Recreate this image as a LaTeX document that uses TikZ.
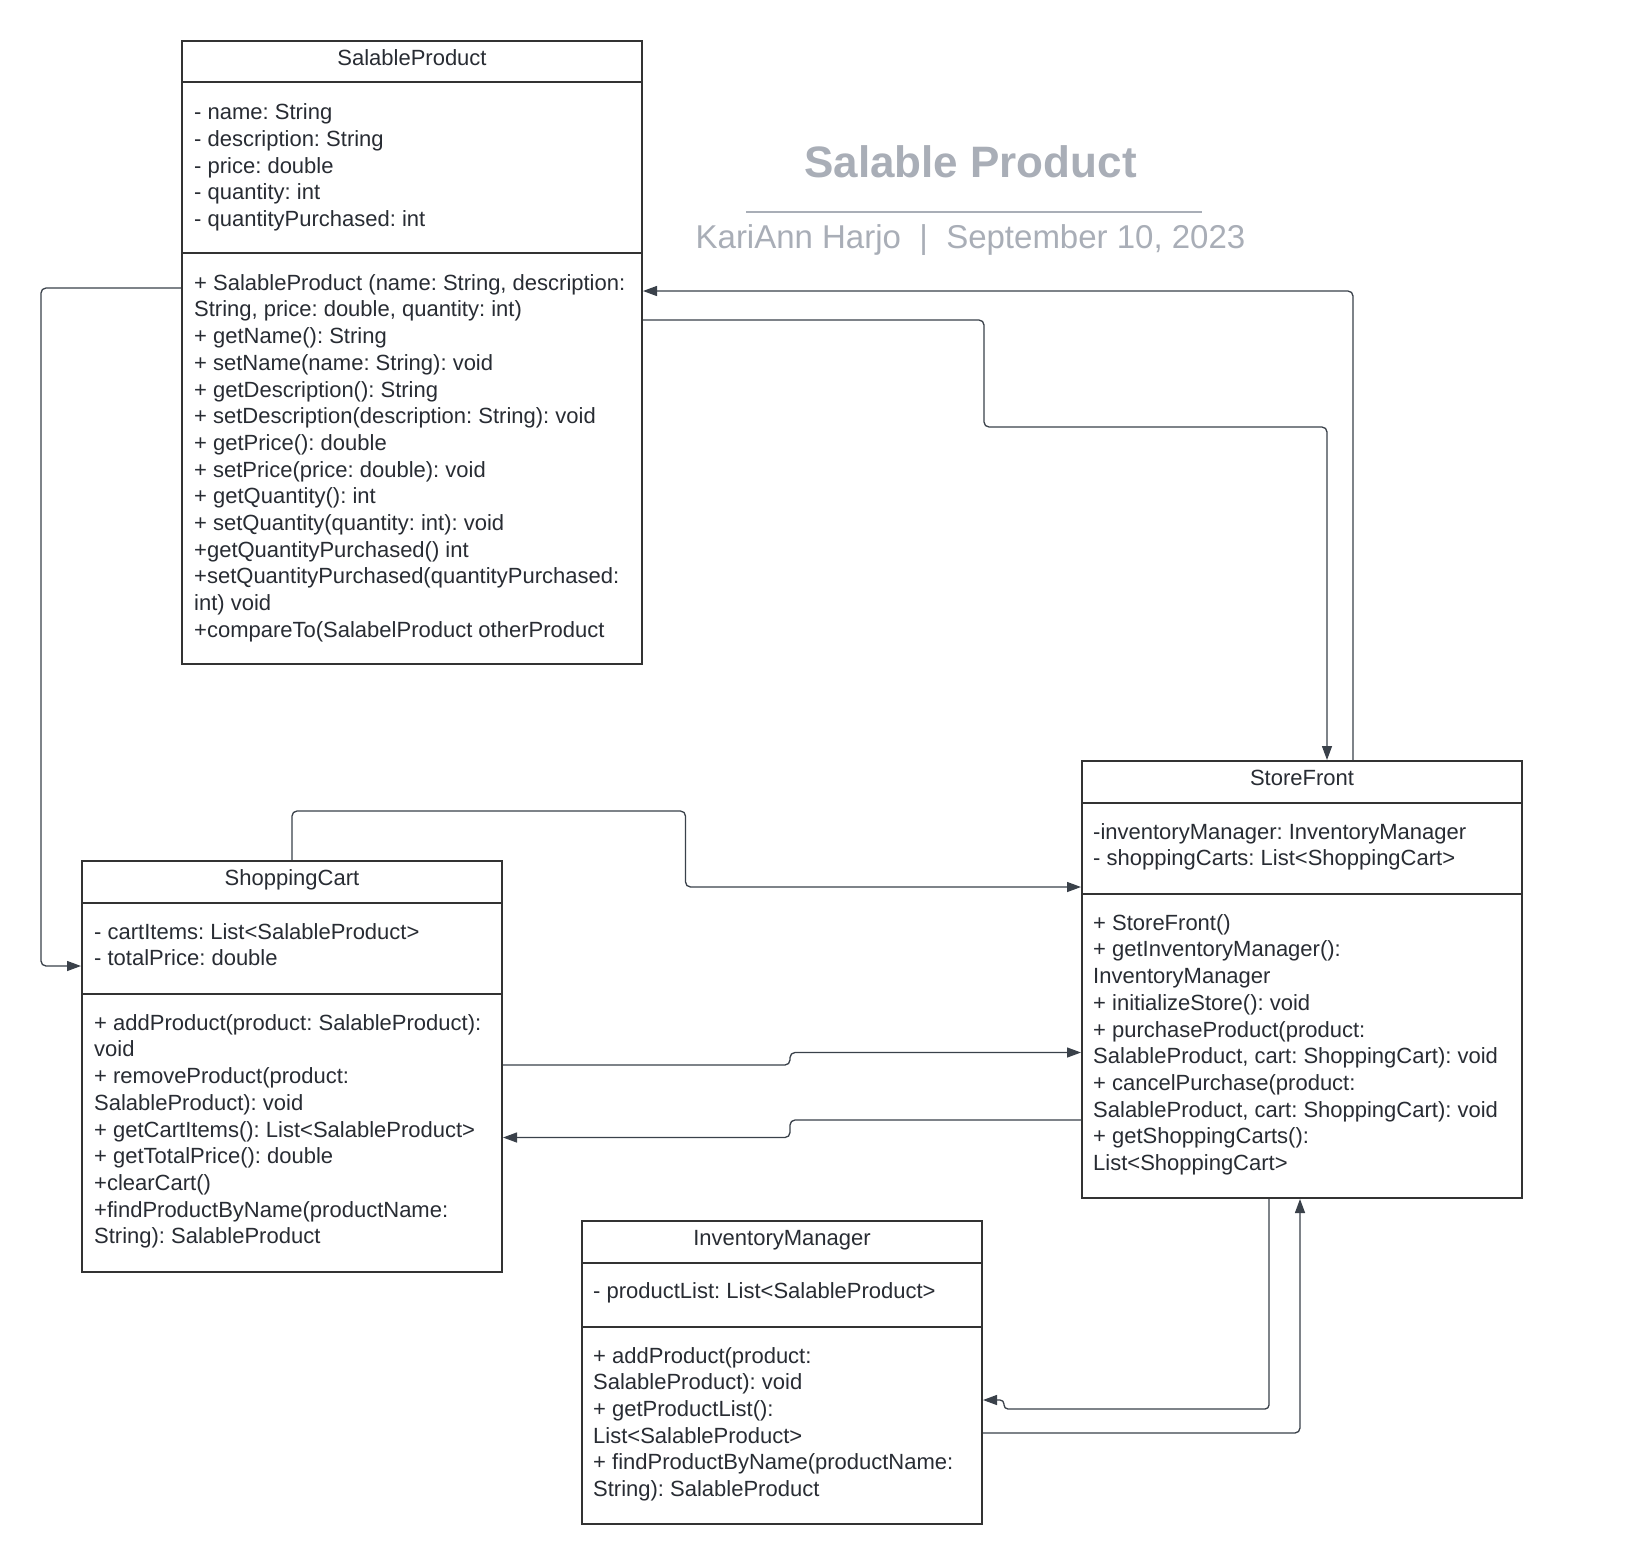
\documentclass[tikz,border=0pt]{standalone}
\usepackage{fontspec}
\setmainfont{Liberation Sans}
\usetikzlibrary{arrows.meta,calc}
\definecolor{boxline}{HTML}{333333}
\definecolor{txtcol}{HTML}{282C33}
\definecolor{conncol}{HTML}{3A414A}
\definecolor{ttlcol}{HTML}{A9AEB7}
\frenchspacing
\begin{document}
\begin{tikzpicture}[x=1pt,y=-1pt,
  umlbox/.style={draw=boxline,line width=2pt,anchor=north west,inner sep=0pt,rectangle},
  divider/.style={draw=boxline,line width=2pt},
  boxtitle/.style={anchor=base,inner sep=0pt,text=txtcol,font=\fontsize{22}{26.7}\selectfont},
  body/.style={anchor=north west,inner sep=0pt,align=left,text=txtcol,font=\fontsize{22}{26.7}\selectfont\frenchspacing},
  conn/.style={draw=conncol,line width=1.3pt,rounded corners=5pt},
  arrowend/.style={-{Triangle[length=14pt,width=10pt]}}
]
\fill[white] (0,0) rectangle (1634,1564);
\useasboundingbox (0,0) rectangle (1634,1564);

% Heading
\node[anchor=base,inner sep=0pt,text=ttlcol,font=\fontsize{44}{50}\selectfont\bfseries] (title) at (970.5,177) {Salable Product};
\draw[draw=ttlcol,line width=2pt] (746,211.5) -- (1201.5,211.5);
\node[anchor=base,inner sep=0pt,text=ttlcol,font=\fontsize{33}{38}\selectfont] (subtitle) at (970.5,248) {KariAnn Harjo \ | \ September 10, 2023};

% SalableProduct
\node[umlbox,minimum width=460,minimum height=623] (sp) at (181,40) {};
\draw[divider] ($(sp.north west)+(0,42)$) -- ($(sp.north east)+(0,42)$);
\draw[divider] ($(sp.north west)+(0,213)$) -- ($(sp.north east)+(0,213)$);
\node[boxtitle] (spt) at ($(sp.north)+(0,25.7)$) {SalableProduct};
\node[body] (spa) at ($(sp.north west)+(13,60.8)$) {\strut- name: String\\
- description: String\\
- price: double\\
- quantity: int\\
- quantityPurchased: int};
\node[body] (spm) at ($(sp.north west)+(13,231.3)$) {\strut+ SalableProduct (name: String, description:\\
String, price: double, quantity: int)\\
+ getName(): String\\
+ setName(name: String): void\\
+ getDescription(): String\\
+ setDescription(description: String): void\\
+ getPrice(): double\\
+ setPrice(price: double): void\\
+ getQuantity(): int\\
+ setQuantity(quantity: int): void\\
+getQuantityPurchased() int\\
+setQuantityPurchased(quantityPurchased:\\
int) void\\
+compareTo(SalabelProduct otherProduct};

% ShoppingCart
\node[umlbox,minimum width=420,minimum height=411] (sc) at (81,860) {};
\draw[divider] ($(sc.north west)+(0,43)$) -- ($(sc.north east)+(0,43)$);
\draw[divider] ($(sc.north west)+(0,134)$) -- ($(sc.north east)+(0,134)$);
\node[boxtitle] (sct) at ($(sc.north)+(0,25.7)$) {ShoppingCart};
\node[body] (sca) at ($(sc.north west)+(13,60.3)$) {\strut- cartItems: List<SalableProduct>\\
- totalPrice: double};
\node[body] (scm) at ($(sc.north west)+(13,151.3)$) {\strut+ addProduct(product: SalableProduct):\\
void\\
+ removeProduct(product:\\
SalableProduct): void\\
+ getCartItems(): List<SalableProduct>\\
+ getTotalPrice(): double\\
+clearCart()\\
+findProductByName(productName:\\
String): SalableProduct};

% StoreFront
\node[umlbox,minimum width=440,minimum height=437] (sf) at (1081,760) {};
\draw[divider] ($(sf.north west)+(0,43)$) -- ($(sf.north east)+(0,43)$);
\draw[divider] ($(sf.north west)+(0,134)$) -- ($(sf.north east)+(0,134)$);
\node[boxtitle] (sft) at ($(sf.north)+(0,25.7)$) {StoreFront};
\node[body] (sfa) at ($(sf.north west)+(12,60.3)$) {\strut-inventoryManager: InventoryManager\\
- shoppingCarts: List<ShoppingCart>};
\node[body] (sfm) at ($(sf.north west)+(12,151.3)$) {\strut+ StoreFront()\\
+ getInventoryManager():\\
InventoryManager\\
+ initializeStore(): void\\
+ purchaseProduct(product:\\
SalableProduct, cart: ShoppingCart): void\\
+ cancelPurchase(product:\\
SalableProduct, cart: ShoppingCart): void\\
+ getShoppingCarts():\\
List<ShoppingCart>};

% InventoryManager
\node[umlbox,minimum width=400,minimum height=303] (im) at (581,1220) {};
\draw[divider] ($(im.north west)+(0,43)$) -- ($(im.north east)+(0,43)$);
\draw[divider] ($(im.north west)+(0,107)$) -- ($(im.north east)+(0,107)$);
\node[boxtitle] (imt) at ($(im.north)+(0,25.7)$) {InventoryManager};
\node[body] (ima) at ($(im.north west)+(12,59.8)$) {\strut- productList: List<SalableProduct>};
\node[body] (imm) at ($(im.north west)+(12,124.1)$) {\strut+ addProduct(product:\\
SalableProduct): void\\
+ getProductList():\\
List<SalableProduct>\\
+ findProductByName(productName:\\
String): SalableProduct};

% Connectors
\draw[conn,arrowend] ($(sp.north west)+(0,248)$) -- (41,288) -- (41,966) -- ($(sc.north west)+(0,106)$);
\draw[conn,arrowend] ($(sp.north east)+(0,280)$) -- (984,320) -- (984,427) -- (1327,427) -- ($(sf.north west)+(246,0)$);
\draw[conn,arrowend] ($(sf.north west)+(272,0)$) -- (1353,291) -- ($(sp.north east)+(0,251)$);
\draw[conn,arrowend] ($(sc.north west)+(211,0)$) -- (292,811) -- (685.5,811) -- (685.5,887) -- ($(sf.north west)+(0,127)$);
\draw[conn,arrowend] ($(sc.north east)+(0,205)$) -- (790,1065) -- (790,1052.5) -- ($(sf.north west)+(0,292.5)$);
\draw[conn,arrowend] ($(sf.north west)+(0,360)$) -- (790,1120) -- (790,1137.5) -- ($(sc.north east)+(0,277.5)$);
\draw[conn,rounded corners=4pt,arrowend] ($(sf.south west)+(188,0)$) -- (1269,1409) -- (1004,1409) -- (1004,1400) -- ($(im.north east)+(0,180)$);
\draw[conn,arrowend] ($(im.north east)+(0,213)$) -- (1300,1433) -- ($(sf.south west)+(219,0)$);
\end{tikzpicture}
\end{document}
